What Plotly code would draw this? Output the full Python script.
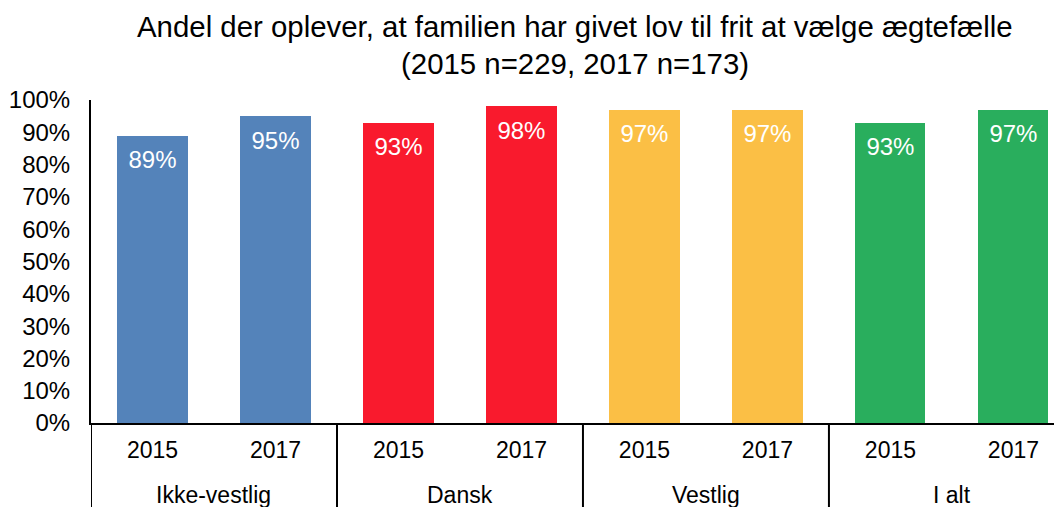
import plotly.graph_objects as go

groups = ["Ikke-vestlig", "Dansk", "Vestlig", "I alt"]
years = ["2015", "2017"]
values = {
    "Ikke-vestlig": [89, 95],
    "Dansk": [93, 98],
    "Vestlig": [97, 97],
    "I alt": [93, 97],
}
colors = {
    "Ikke-vestlig": "#5483BA",
    "Dansk": "#F91A2D",
    "Vestlig": "#FBBF45",
    "I alt": "#29AE5D",
}
title_lines = ["Andel der oplever, at familien har givet lov til frit at vælge ægtefælle",
               "(2015 n=229, 2017 n=173)"]

cats, ticktext, yv, cols, txt = [], [], [], [], []
for g in groups:
    for yr, v in zip(years, values[g]):
        cats.append(f"{g} {yr}"); ticktext.append(yr); yv.append(v)
        cols.append(colors[g]); txt.append(f"{v}%")

# the page body has an 8px margin, so the figure is offset by 8px
OFF = 8
L, T = 91 - OFF, 100 - OFF
B = 507 - (423 - OFF)
H_PLOT = 507 - T - B
W_PLOT = 1062 - L

fig = go.Figure()
fig.add_trace(go.Bar(x=cats, y=yv, marker=dict(color=cols, line=dict(width=0)),
                     width=0.57, showlegend=False, hoverinfo="skip"))
fig.add_trace(go.Scatter(x=cats, y=yv, mode="markers+text", text=txt,
                         marker=dict(size=22, opacity=0),
                         textposition="bottom center",
                         textfont=dict(family="Liberation Sans", size=24, color="white"),
                         showlegend=False, hoverinfo="skip"))

for line, ypx in zip(title_lines, [26, 63]):
    fig.add_annotation(text=line, xref="paper", yref="paper",
                       x=(574.5 - OFF - L) / W_PLOT, y=(423 - ypx) / H_PLOT,
                       xanchor="center", yanchor="middle", showarrow=False,
                       font=dict(family="Liberation Sans", size=29.4, color="black"))

# group labels and dividers
for i, g in enumerate(groups):
    fig.add_annotation(text=g, xref="x", yref="paper", x=2 * i + 0.5, y=-72 / H_PLOT,
                       xanchor="center", yanchor="middle", showarrow=False,
                       font=dict(family="Liberation Sans", size=23, color="black"))
for xd in [-0.5, 1.5, 3.5, 5.5, 7.5]:
    fig.add_shape(type="line", xref="x", yref="paper", x0=xd, x1=xd, y0=0, y1=-0.35,
                  line=dict(color="black", width=2))

fig.update_layout(
    width=1062, height=507,
    margin=dict(l=L, r=0, t=T, b=B),
    plot_bgcolor="white", paper_bgcolor="white",
    font=dict(family="Liberation Sans", size=23, color="black"),
    bargap=0,
)
fig.update_xaxes(type="category", range=[-0.5, 7.46], showline=True, linecolor="black",
                 linewidth=2, ticks="", tickvals=cats, ticktext=ticktext,
                 tickfont=dict(size=23), ticklabelstandoff=5, automargin=False)
fig.update_yaxes(range=[0, 100], tickvals=list(range(0, 101, 10)),
                 ticktext=[f"{v}%" for v in range(0, 101, 10)],
                 showgrid=False, zeroline=False, showline=True, linecolor="black", linewidth=2,
                 ticks="", ticklabelstandoff=14, tickfont=dict(size=24), automargin=False)
fig.write_html("out.html")
